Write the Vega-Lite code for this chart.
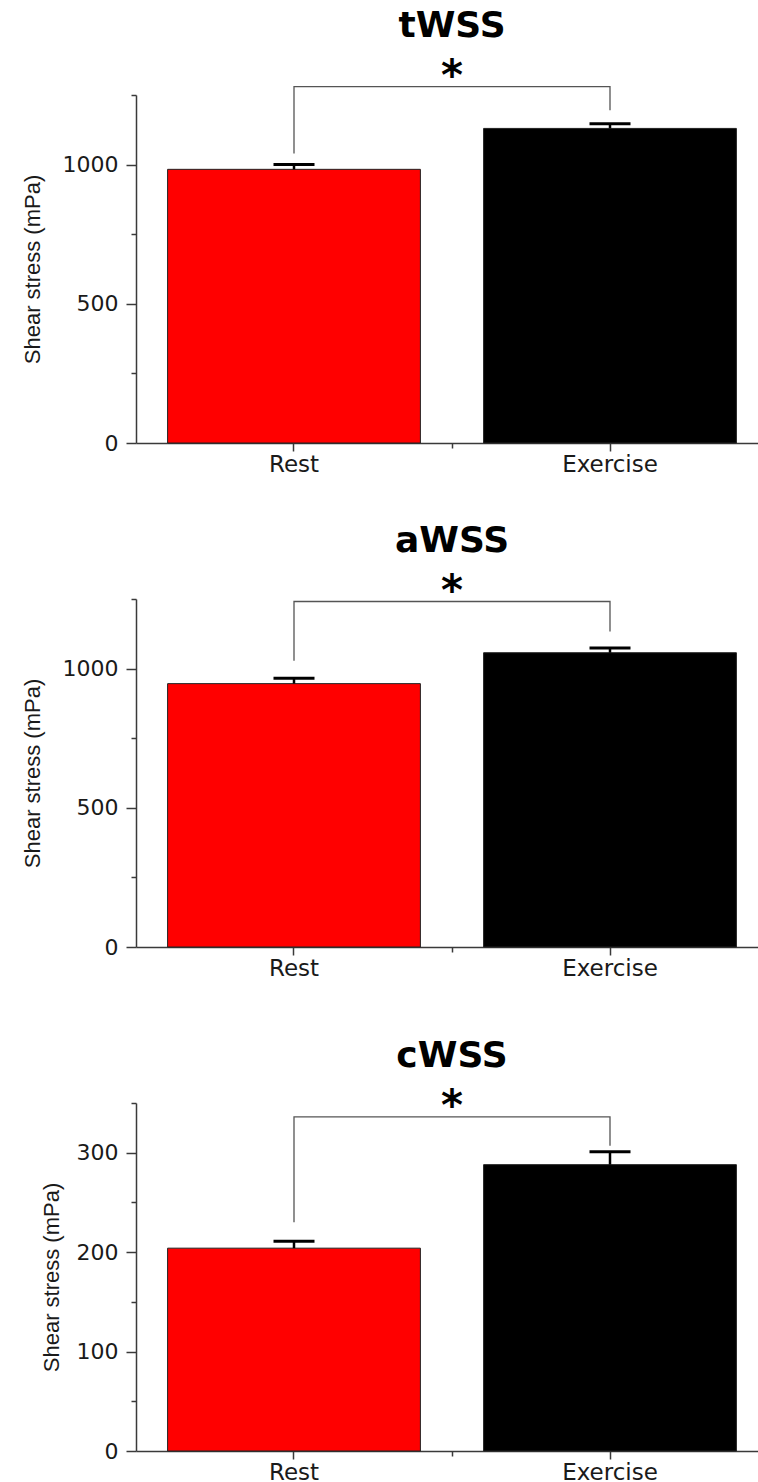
{
  "$schema": "https://vega.github.io/schema/vega-lite/v6.json",
  "padding": {"left": 21, "top": 7, "right": 0, "bottom": 0},
  "datasets": {
    "bars": [
      {"panel": "tWSS", "group": "Rest", "mean": 983, "se": 17},
      {"panel": "tWSS", "group": "Exercise", "mean": 1130, "se": 17},
      {"panel": "aWSS", "group": "Rest", "mean": 946, "se": 19},
      {"panel": "aWSS", "group": "Exercise", "mean": 1057, "se": 17},
      {"panel": "cWSS", "group": "Rest", "mean": 204, "se": 7},
      {"panel": "cWSS", "group": "Exercise", "mean": 288, "se": 13}
    ],
    "brackets": [
      {"panel": "tWSS", "group": "Rest", "step": 1, "y": 1040},
      {"panel": "tWSS", "group": "Rest", "step": 2, "y": 1280},
      {"panel": "tWSS", "group": "Exercise", "step": 3, "y": 1280},
      {"panel": "tWSS", "group": "Exercise", "step": 4, "y": 1195},
      {"panel": "aWSS", "group": "Rest", "step": 1, "y": 1028},
      {"panel": "aWSS", "group": "Rest", "step": 2, "y": 1241},
      {"panel": "aWSS", "group": "Exercise", "step": 3, "y": 1241},
      {"panel": "aWSS", "group": "Exercise", "step": 4, "y": 1133},
      {"panel": "cWSS", "group": "Rest", "step": 1, "y": 230},
      {"panel": "cWSS", "group": "Rest", "step": 2, "y": 336},
      {"panel": "cWSS", "group": "Exercise", "step": 3, "y": 336},
      {"panel": "cWSS", "group": "Exercise", "step": 4, "y": 307}
    ]
  },
  "bounds": "flush",
  "spacing": 156,
  "vconcat": [
    {
      "title": "tWSS",
      "width": 632,
      "height": 348,
      "resolve": {"axis": {"x": "independent"}},
      "layer": [
        {
          "data": {"name": "bars"},
          "transform": [{"filter": "datum.panel === 'tWSS'"}],
          "mark": {"type": "bar", "stroke": "#222222", "strokeWidth": 1},
          "encoding": {
            "x": {"field": "group", "type": "nominal", "sort": ["Rest", "Exercise"], "title": null,
                  "scale": {"paddingInner": 0.2, "paddingOuter": 0.1}, "axis": {"labelAngle": 0, "orient": "bottom"}},
            "y": {"field": "mean", "type": "quantitative", "title": "Shear stress (mPa)",
                  "scale": {"domain": [0, 1250], "nice": false},
                  "axis": {"values": [0, 250, 500, 750, 1000, 1250], "labelOverlap": false, "format": "d", "titlePadding": 18,
                           "labelExpr": "datum.value % 500 === 0 ? datum.label : ''",
                           "tickSize": {"condition": {"test": "datum.value % 500 === 0", "value": 10}, "value": 5}}},
            "color": {"field": "group", "type": "nominal", "legend": null,
                      "scale": {"domain": ["Rest", "Exercise"], "range": ["#ff0000", "#000000"]}}
          }
        },
        {
          "data": {"name": "bars"},
          "transform": [{"filter": "datum.panel === 'tWSS'"}, {"calculate": "datum.mean + datum.se", "as": "hi"}],
          "mark": {"type": "rule", "color": "#000000", "strokeWidth": 2.5},
          "encoding": {
            "x": {"field": "group", "type": "nominal", "sort": ["Rest", "Exercise"], "title": null,
                  "axis": {"orient": "bottom", "bandPosition": 1.125, "labels": false, "domain": false, "tickSize": 5}},
            "y": {"field": "mean", "type": "quantitative", "title": "Shear stress (mPa)"},
            "y2": {"field": "hi"}
          }
        },
        {
          "data": {"name": "bars"},
          "transform": [{"filter": "datum.panel === 'tWSS'"}, {"calculate": "datum.mean + datum.se", "as": "hi"}],
          "mark": {"type": "tick", "color": "#000000", "size": 41, "thickness": 3, "opacity": 1},
          "encoding": {
            "x": {"field": "group", "type": "nominal", "sort": ["Rest", "Exercise"], "axis": null},
            "y": {"field": "hi", "type": "quantitative", "title": "Shear stress (mPa)"}
          }
        },
        {
          "data": {"name": "brackets"},
          "transform": [{"filter": "datum.panel === 'tWSS'"}],
          "mark": {"type": "line", "color": "#555555", "strokeWidth": 1.3},
          "encoding": {
            "x": {"field": "group", "type": "nominal", "sort": ["Rest", "Exercise"], "axis": null},
            "y": {"field": "y", "type": "quantitative", "title": "Shear stress (mPa)"},
            "order": {"field": "step", "type": "quantitative"}
          }
        },
        {
          "data": {"name": "brackets"},
          "transform": [{"filter": "datum.panel === 'tWSS' && datum.step === 2"}],
          "mark": {"type": "text", "text": "*", "font": "DejaVu Sans", "fontWeight": "bold", "fontSize": 42, "baseline": "alphabetic", "dy": 3},
          "encoding": {
            "x": {"field": "group", "type": "nominal", "sort": ["Rest", "Exercise"], "bandPosition": 1.125, "axis": null},
            "y": {"field": "y", "type": "quantitative", "title": "Shear stress (mPa)"}
          }
        }
      ]
    },
    {
      "title": "aWSS",
      "width": 632,
      "height": 348,
      "resolve": {"axis": {"x": "independent"}},
      "layer": [
        {
          "data": {"name": "bars"},
          "transform": [{"filter": "datum.panel === 'aWSS'"}],
          "mark": {"type": "bar", "stroke": "#222222", "strokeWidth": 1},
          "encoding": {
            "x": {"field": "group", "type": "nominal", "sort": ["Rest", "Exercise"], "title": null,
                  "scale": {"paddingInner": 0.2, "paddingOuter": 0.1}, "axis": {"labelAngle": 0, "orient": "bottom"}},
            "y": {"field": "mean", "type": "quantitative", "title": "Shear stress (mPa)",
                  "scale": {"domain": [0, 1250], "nice": false},
                  "axis": {"values": [0, 250, 500, 750, 1000, 1250], "labelOverlap": false, "format": "d", "titlePadding": 18,
                           "labelExpr": "datum.value % 500 === 0 ? datum.label : ''",
                           "tickSize": {"condition": {"test": "datum.value % 500 === 0", "value": 10}, "value": 5}}},
            "color": {"field": "group", "type": "nominal", "legend": null,
                      "scale": {"domain": ["Rest", "Exercise"], "range": ["#ff0000", "#000000"]}}
          }
        },
        {
          "data": {"name": "bars"},
          "transform": [{"filter": "datum.panel === 'aWSS'"}, {"calculate": "datum.mean + datum.se", "as": "hi"}],
          "mark": {"type": "rule", "color": "#000000", "strokeWidth": 2.5},
          "encoding": {
            "x": {"field": "group", "type": "nominal", "sort": ["Rest", "Exercise"], "title": null,
                  "axis": {"orient": "bottom", "bandPosition": 1.125, "labels": false, "domain": false, "tickSize": 5}},
            "y": {"field": "mean", "type": "quantitative", "title": "Shear stress (mPa)"},
            "y2": {"field": "hi"}
          }
        },
        {
          "data": {"name": "bars"},
          "transform": [{"filter": "datum.panel === 'aWSS'"}, {"calculate": "datum.mean + datum.se", "as": "hi"}],
          "mark": {"type": "tick", "color": "#000000", "size": 41, "thickness": 3, "opacity": 1},
          "encoding": {
            "x": {"field": "group", "type": "nominal", "sort": ["Rest", "Exercise"], "axis": null},
            "y": {"field": "hi", "type": "quantitative", "title": "Shear stress (mPa)"}
          }
        },
        {
          "data": {"name": "brackets"},
          "transform": [{"filter": "datum.panel === 'aWSS'"}],
          "mark": {"type": "line", "color": "#555555", "strokeWidth": 1.3},
          "encoding": {
            "x": {"field": "group", "type": "nominal", "sort": ["Rest", "Exercise"], "axis": null},
            "y": {"field": "y", "type": "quantitative", "title": "Shear stress (mPa)"},
            "order": {"field": "step", "type": "quantitative"}
          }
        },
        {
          "data": {"name": "brackets"},
          "transform": [{"filter": "datum.panel === 'aWSS' && datum.step === 2"}],
          "mark": {"type": "text", "text": "*", "font": "DejaVu Sans", "fontWeight": "bold", "fontSize": 42, "baseline": "alphabetic", "dy": 3},
          "encoding": {
            "x": {"field": "group", "type": "nominal", "sort": ["Rest", "Exercise"], "bandPosition": 1.125, "axis": null},
            "y": {"field": "y", "type": "quantitative", "title": "Shear stress (mPa)"}
          }
        }
      ]
    },
    {
      "title": "cWSS",
      "width": 632,
      "height": 348,
      "resolve": {"axis": {"x": "independent"}},
      "layer": [
        {
          "data": {"name": "bars"},
          "transform": [{"filter": "datum.panel === 'cWSS'"}],
          "mark": {"type": "bar", "stroke": "#222222", "strokeWidth": 1},
          "encoding": {
            "x": {"field": "group", "type": "nominal", "sort": ["Rest", "Exercise"], "title": null,
                  "scale": {"paddingInner": 0.2, "paddingOuter": 0.1}, "axis": {"labelAngle": 0, "orient": "bottom"}},
            "y": {"field": "mean", "type": "quantitative", "title": "Shear stress (mPa)",
                  "scale": {"domain": [0, 350], "nice": false},
                  "axis": {"values": [0, 50, 100, 150, 200, 250, 300, 350], "labelOverlap": false, "format": "d", "titlePadding": 13,
                           "labelExpr": "datum.value % 100 === 0 ? datum.label : ''",
                           "tickSize": {"condition": {"test": "datum.value % 100 === 0", "value": 10}, "value": 5}}},
            "color": {"field": "group", "type": "nominal", "legend": null,
                      "scale": {"domain": ["Rest", "Exercise"], "range": ["#ff0000", "#000000"]}}
          }
        },
        {
          "data": {"name": "bars"},
          "transform": [{"filter": "datum.panel === 'cWSS'"}, {"calculate": "datum.mean + datum.se", "as": "hi"}],
          "mark": {"type": "rule", "color": "#000000", "strokeWidth": 2.5},
          "encoding": {
            "x": {"field": "group", "type": "nominal", "sort": ["Rest", "Exercise"], "title": null,
                  "axis": {"orient": "bottom", "bandPosition": 1.125, "labels": false, "domain": false, "tickSize": 5}},
            "y": {"field": "mean", "type": "quantitative", "title": "Shear stress (mPa)"},
            "y2": {"field": "hi"}
          }
        },
        {
          "data": {"name": "bars"},
          "transform": [{"filter": "datum.panel === 'cWSS'"}, {"calculate": "datum.mean + datum.se", "as": "hi"}],
          "mark": {"type": "tick", "color": "#000000", "size": 41, "thickness": 3, "opacity": 1},
          "encoding": {
            "x": {"field": "group", "type": "nominal", "sort": ["Rest", "Exercise"], "axis": null},
            "y": {"field": "hi", "type": "quantitative", "title": "Shear stress (mPa)"}
          }
        },
        {
          "data": {"name": "brackets"},
          "transform": [{"filter": "datum.panel === 'cWSS'"}],
          "mark": {"type": "line", "color": "#555555", "strokeWidth": 1.3},
          "encoding": {
            "x": {"field": "group", "type": "nominal", "sort": ["Rest", "Exercise"], "axis": null},
            "y": {"field": "y", "type": "quantitative", "title": "Shear stress (mPa)"},
            "order": {"field": "step", "type": "quantitative"}
          }
        },
        {
          "data": {"name": "brackets"},
          "transform": [{"filter": "datum.panel === 'cWSS' && datum.step === 2"}],
          "mark": {"type": "text", "text": "*", "font": "DejaVu Sans", "fontWeight": "bold", "fontSize": 42, "baseline": "alphabetic", "dy": 3},
          "encoding": {
            "x": {"field": "group", "type": "nominal", "sort": ["Rest", "Exercise"], "bandPosition": 1.125, "axis": null},
            "y": {"field": "y", "type": "quantitative", "title": "Shear stress (mPa)"}
          }
        }
      ]
    }
  ],
  "config": {
    "view": {"stroke": null},
    "axis": {
      "grid": false,
      "domainColor": "#3a3a3a", "domainWidth": 1.5,
      "tickColor": "#3a3a3a", "tickWidth": 1.5,
      "labelFont": "DejaVu Sans", "labelFontSize": 22, "labelColor": "#1a1a1a", "labelPadding": 8,
      "titleFont": "Liberation Sans", "titleFontSize": 22, "titleFontWeight": "normal", "titleColor": "#1a1a1a"
    },
    "axisX": {"tickSize": 8, "labelFontSize": 23, "labelPadding": 2},
    "title": {"font": "DejaVu Sans", "fontSize": 36, "fontWeight": "bold", "color": "#000000", "anchor": "middle", "baseline": "alphabetic", "offset": 11}
  }
}
